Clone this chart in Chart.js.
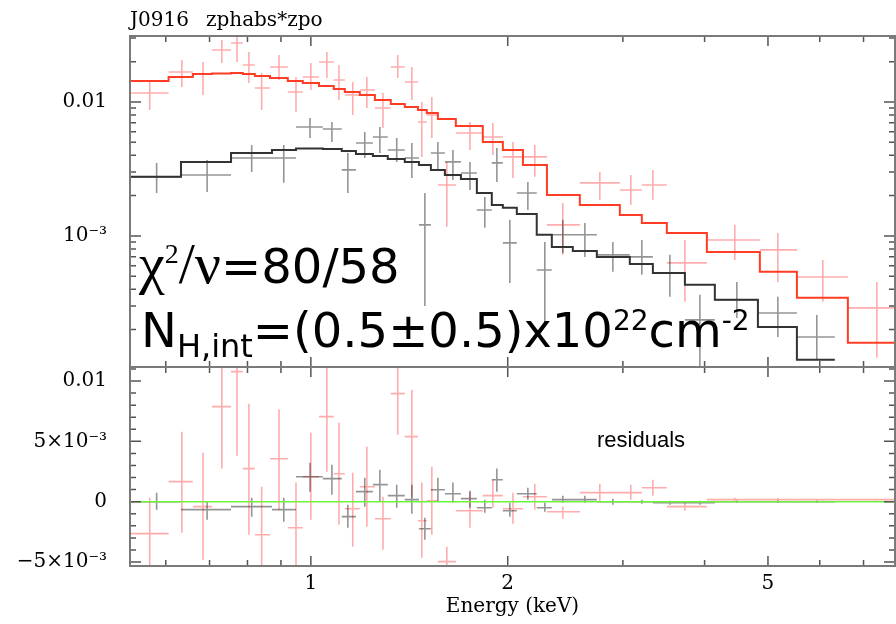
<!DOCTYPE html>
<html>
<head>
<meta charset="utf-8">
<script src="https://cdn.jsdelivr.net/npm/chart.js"></script>
<style>
  html, body { margin: 0; padding: 0; background: #fff; }
  #wrap { position: relative; width: 896px; height: 624px; overflow: hidden; }
  canvas { position: absolute; left: 0; top: 0; }
  .lbl { position: absolute; white-space: nowrap; color: #000; }
  #title { left: 130px; top: 9px; font: 20px/20px "DejaVu Serif", serif; }
  #title span { margin-left: 17px; }
  #resLabel { left: 597px; top: 429px; font: 22px/22px "Liberation Sans", Arial, sans-serif; }
  .note { font-family: "DejaVu Sans", sans-serif; font-size: 48px; line-height: 48px; }
  .note .serif { font-family: "Liberation Serif", serif; font-size: 58px; line-height: 0; }
  .note .sup { font-size: 28px; position: relative; top: -20px; }
  .note .sup2 { font-size: 28px; position: relative; top: -17px; }
  .note .sub { font-size: 32px; position: relative; top: 10px; }
</style>
</head>
<body>
<div id="wrap">
  <canvas id="specChart" width="896" height="624"></canvas>
  <canvas id="residChart" width="896" height="624"></canvas>
  <div class="lbl" id="title">J0916<span>zphabs*zpo</span></div>
  <div class="lbl" id="resLabel">residuals</div>
  <div class="lbl note" style="left:139px; top:242px;"><span class="serif">χ<span class="sup">2</span>/ν</span>=80/58</div>
  <div class="lbl note" style="left:141px; top:306px;">N<span class="sub">H,int</span>=(0.5±0.5)x10<span class="sup2">22</span>cm<span class="sup2">-2</span></div>
</div>
<script>
// axis limits and tick marks
const xMin = 0.529, xMax = 7.82;
const xMajor = [1, 2, 5];
const xMinor = [0.6, 0.7, 0.8, 0.9, 3, 4, 6, 7];
const specMin = 1.05e-4, specMax = 0.0311;
const specMajor = [0.001, 0.01];
const specLabels = ['10⁻³', '0.01'];
const specMinor = [2e-4, 3e-4, 4e-4, 5e-4, 6e-4, 7e-4, 8e-4, 9e-4,
                   2e-3, 3e-3, 4e-3, 5e-3, 6e-3, 7e-3, 8e-3, 9e-3, 0.02, 0.03];
const resMin = -0.00533, resMax = 0.01116;
const resMajor = [-0.005, 0, 0.005, 0.01];
const resLabels = ['−5×10⁻³', '0', '5×10⁻³', '0.01'];
const resMinor = [-0.004, -0.003, -0.002, -0.001, 0.001, 0.002, 0.003, 0.004,
                  0.006, 0.007, 0.008, 0.009, 0.011];

// red spectrum (keV bins)
const redEdges = [0.529, 0.606, 0.660, 0.706, 0.755, 0.787, 0.821, 0.866, 0.922, 0.972, 1.029,
  1.084, 1.127, 1.188, 1.253, 1.325, 1.392, 1.458, 1.504, 1.564, 1.666, 1.832, 1.966, 2.110,
  2.296, 2.578, 2.968, 3.207, 3.502, 4.032, 4.859, 5.536, 6.624, 8.09];
const redE = [0.567, 0.635, 0.684, 0.731, 0.771, 0.804, 0.841, 0.894, 0.949, 1.0, 1.058,
  1.104, 1.159, 1.218, 1.289, 1.358, 1.427, 1.478, 1.531, 1.614, 1.751, 1.898, 2.037, 2.200,
  2.428, 2.766, 3.085, 3.334, 3.732, 4.449, 5.177, 6.065, 7.336];
const redFlux = [0.01167, 0.01675, 0.01618, 0.02443, 0.02756, 0.01888, 0.01272, 0.01825, 0.01188,
  0.01536, 0.01989, 0.01459, 0.01128, 0.01229, 0.00902, 0.01825, 0.01410, 0.00709, 0.00800,
  0.00240, 0.00587, 0.00548, 0.00389, 0.00389, 0.00121, 0.00249, 0.00220, 0.00240, 0.000629,
  0.000933, 0.000786, 0.000494, 0.000290];
const redFluxHi = [0.01459, 0.02058, 0.01989, 0.02904, 0.0316, 0.0236, 0.01646, 0.02243, 0.01536,
  0.01953, 0.0236, 0.01888, 0.01410, 0.01536, 0.01167, 0.02243, 0.01825, 0.0100, 0.01090,
  0.00357, 0.00709, 0.00697, 0.00503, 0.00478, 0.00176, 0.00300, 0.00285, 0.00311, 0.000933,
  0.00121, 0.00105, 0.000662, 0.000453];
const redFluxLo = [0.00872, 0.01294, 0.01128, 0.01953, 0.01989, 0.01386, 0.00872, 0.01459, 0.00842,
  0.01229, 0.01510, 0.01035, 0.00800, 0.00902, 0.00640, 0.01510, 0.01035, 0.00389, 0.00539,
  0.00117, 0.00438, 0.00402, 0.00271, 0.00276, 0.000722, 0.00186, 0.00170, 0.00186, 0.000322,
  0.000662, 0.000453, 0.000322, 0.000123];
const redModel = [0.01434, 0.01536, 0.01618, 0.01632, 0.01646, 0.01618, 0.01563, 0.01510, 0.01434,
  0.01386, 0.01316, 0.01250, 0.01188, 0.01128, 0.01035, 0.00966, 0.00918, 0.00872, 0.00828,
  0.00746, 0.00662, 0.00503, 0.00438, 0.00339, 0.00202, 0.00170, 0.00143, 0.00125, 0.00105,
  0.00076, 0.00054, 0.000345, 0.000159];
const redRes = [-0.00265, 0.00166, -0.00041, 0.00788, 0.01078, 0.00274, -0.00274, 0.00356, -0.00216,
  0.00207, 0.00705, 0.00232, -0.00058, 0.00124, -0.00141, 0.00895, 0.00539, -0.00158, 0.00008,
  -0.00497, -0.00075, 0.00050, -0.00058, 0.00041, -0.00083, 0.00075, 0.00075, 0.00116, -0.00041,
  0.00017, 0.00017, 0.00017, 0.00017];
const redResHi = [0.00033, 0.0058, 0.00406, 0.0112, 0.013, 0.00812, 0.00124, 0.00763, 0.00158,
  0.00572, 0.0115, 0.00655, 0.0024, 0.00456, 0.00041, 0.0111, 0.00928, 0.00158, 0.0029,
  -0.00373, 0.00083, 0.00182, 0.00075, 0.00149, -0.00041, 0.00149, 0.00141, 0.00182, -0.00008,
  0.00033, 0.0003, 0.00025, 0.00025];
const redResLo = [-0.0055, -0.00257, -0.00481, 0.00274, 0.00381, -0.00274, -0.0055, -0.00066, -0.0055,
  -0.00149, 0.00249, -0.00191, -0.00373, -0.00207, -0.00398, 0.00555, 0.00033, -0.00464, -0.00274,
  -0.0055, -0.00216, -0.0005, -0.00182, -0.00066, -0.00141, 0, 0.00017, 0.0005, -0.00075,
  0, 0.00004, 0.00008, 0.00008];

// black spectrum
const blackEdges = [0.529, 0.633, 0.755, 0.872, 0.949, 1.043, 1.115, 1.172, 1.244, 1.311, 1.392,
  1.463, 1.526, 1.603, 1.696, 1.794, 1.891, 1.966, 2.065, 2.215, 2.336, 2.515, 2.737, 3.074,
  3.334, 3.732, 4.147, 4.826, 5.536, 6.327];
const blackE = [0.581, 0.694, 0.812, 0.909, 0.997, 1.077, 1.139, 1.209, 1.275, 1.353, 1.427,
  1.494, 1.564, 1.649, 1.751, 1.845, 1.925, 2.015, 2.147, 2.279, 2.428, 2.624, 2.896, 3.207,
  3.540, 3.934, 4.481, 5.177, 5.938];
const blackFlux = [0.00276, 0.00285, 0.00382, 0.00382, 0.00651, 0.00629, 0.00311, 0.00494, 0.00548,
  0.00438, 0.00382, 0.00121, 0.00416, 0.00357, 0.00295, 0.00156, 0.00351, 0.000887, 0.00209,
  0.000557, 0.00102, 0.00102, 0.000722, 0.000697, 0.000529, 0.000236, 0.000333, 0.000266, 0.000176];
const blackFluxHi = [0.00351, 0.00369, 0.00478, 0.00478, 0.00760, 0.00709, 0.00416, 0.00597, 0.00651,
  0.00539, 0.00494, 0.00209, 0.00503, 0.00438, 0.00357, 0.00195, 0.00454, 0.00132, 0.00253,
  0.000902, 0.00132, 0.00125, 0.000902, 0.000933, 0.000722, 0.000363, 0.000453, 0.000351, 0.000257];
const blackFluxLo = [0.00209, 0.00213, 0.00300, 0.00249, 0.00539, 0.00503, 0.00209, 0.00382, 0.00416,
  0.00357, 0.00271, 0.000300, 0.00311, 0.00262, 0.00220, 0.00115, 0.00253, 0.000446, 0.00156,
  0.000209, 0.000747, 0.000697, 0.000539, 0.000512, 0.000351, 0.0001, 0.000244, 0.000176, 0.000119];
const blackModel = [0.00276, 0.00357, 0.00416, 0.00438, 0.00450, 0.00446, 0.00431, 0.00409, 0.00395,
  0.00375, 0.00357, 0.00339, 0.00311, 0.00285, 0.00266, 0.00209, 0.00170, 0.00162, 0.00146,
  0.00102, 0.000828, 0.000773, 0.000697, 0.000618, 0.000529, 0.000431, 0.000333, 0.000209, 0.000119];
const blackRes = [0, -0.00066, -0.00041, -0.00066, 0.00207, 0.00191, -0.00124, 0.00083, 0.00141,
  0.0005, 0.00017, -0.00224, 0.00099, 0.00066, 0.00025, -0.0005, 0.00182, -0.00075, 0.00066,
  -0.0005, 0.00017, 0.00017, 0, 0, -0.00008, -0.00008, 0, 0, 0];
const blackResHi = [0.00075, 0, 0.00033, 0.00033, 0.00323, 0.00307, -0.00025, 0.00199, 0.00265,
  0.00141, 0.00141, -0.00133, 0.00199, 0.00158, 0.00091, 0.00017, 0.00274, -0.00008, 0.00116,
  -0.00008, 0.0005, 0.0005, 0.00025, 0.00017, 0.00008, 0.00008, 0.0001, 0.0001, 0.0001];
const blackResLo = [-0.00066, -0.00149, -0.00124, -0.00166, 0.00083, 0.00058, -0.00216, -0.00041, 0,
  -0.0005, -0.00099, -0.00315, 0, -0.00008, -0.0005, -0.00091, 0.00083, -0.00124, 0.00017,
  -0.00083, -0.00008, -0.00008, -0.00025, -0.00017, -0.00025, -0.00025, -0.0001, -0.0001, -0.0001];

const RED_PT = 'rgba(255, 70, 70, 0.45)';
const BLACK_PT = 'rgba(0, 0, 0, 0.42)';
const tickFont = { family: 'DejaVu Serif', size: 20 };

// model histogram: one point per bin edge, stepped
function stepData(edges, vals) {
  const pts = vals.map((v, i) => ({ x: edges[i], y: v }));
  pts.push({ x: edges[edges.length - 1], y: vals[vals.length - 1] });
  return pts;
}

function crossSet(edges, xs, ys, lo, hi, color) {
  return {
    data: xs.map((x, i) => ({ x: x, y: ys[i] })),
    pointRadius: 0,
    err: { xlo: edges.slice(0, -1), xhi: edges.slice(1), ylo: lo, yhi: hi, color: color }
  };
}

// draws the data crosses (energy bin + error bar)
const crossPlugin = {
  id: 'crosses',
  beforeDatasetsDraw(chart) {
    const { ctx, chartArea: a, scales } = chart;
    const x = scales.x, y = scales.y;
    ctx.save();
    ctx.beginPath();
    ctx.rect(a.left, a.top, a.right - a.left, a.bottom - a.top);
    ctx.clip();
    ctx.lineWidth = 1.6;
    chart.data.datasets.forEach(ds => {
      if (!ds.err) return;
      const e = ds.err;
      ctx.strokeStyle = e.color;
      ds.data.forEach((p, i) => {
        const px = x.getPixelForValue(p.x), py = y.getPixelForValue(p.y);
        ctx.beginPath();
        ctx.moveTo(x.getPixelForValue(e.xlo[i]), py);
        ctx.lineTo(x.getPixelForValue(e.xhi[i]), py);
        ctx.moveTo(px, y.getPixelForValue(e.ylo[i]));
        ctx.lineTo(px, y.getPixelForValue(e.yhi[i]));
        ctx.stroke();
      });
    });
    ctx.restore();
  }
};

// box around the panel with inward ticks on every side
const framePlugin = {
  id: 'frame',
  afterDraw(chart, args, opts) {
    const { ctx, chartArea: a, scales } = chart;
    const x = scales.x, y = scales.y;
    ctx.save();
    ctx.strokeStyle = '#555';
    ctx.lineWidth = 1.5;
    const xt = (vals, len) => vals.forEach(v => {
      const p = x.getPixelForValue(v);
      ctx.beginPath();
      ctx.moveTo(p, a.bottom); ctx.lineTo(p, a.bottom - len);
      ctx.moveTo(p, a.top); ctx.lineTo(p, a.top + len);
      ctx.stroke();
    });
    const yt = (vals, len) => vals.forEach(v => {
      const p = y.getPixelForValue(v);
      ctx.beginPath();
      ctx.moveTo(a.left, p); ctx.lineTo(a.left + len, p);
      ctx.moveTo(a.right, p); ctx.lineTo(a.right - len, p);
      ctx.stroke();
    });
    xt(xMajor, 10); xt(xMinor, 6);
    yt(opts.yMajor, 11); yt(opts.yMinor, 6);
    ctx.strokeStyle = '#7a7a7a';
    ctx.lineWidth = 2;
    ctx.strokeRect(a.left, a.top, a.right - a.left, a.bottom - a.top);
    ctx.restore();
  }
};

const baseX = {
  type: 'logarithmic', min: xMin, max: xMax,
  grid: { display: false, drawTicks: false },
  border: { display: false }
};

new Chart(document.getElementById('specChart'), {
  type: 'scatter',
  data: {
    datasets: [
      { data: stepData(redEdges, redModel), showLine: true, stepped: true, pointRadius: 0,
        borderColor: '#ff3d24', borderWidth: 2 },
      { data: stepData(blackEdges, blackModel), showLine: true, stepped: true, pointRadius: 0,
        borderColor: '#333', borderWidth: 2 },
      crossSet(redEdges, redE, redFlux, redFluxLo, redFluxHi, RED_PT),
      crossSet(blackEdges, blackE, blackFlux, blackFluxLo, blackFluxHi, BLACK_PT)
    ]
  },
  options: {
    responsive: false,
    animation: false,
    events: [],
    layout: { padding: { left: 0, right: 1, top: 36, bottom: 257 } },
    plugins: {
      legend: { display: false }, tooltip: { enabled: false },
      frame: { yMajor: specMajor, yMinor: specMinor }
    },
    scales: {
      x: Object.assign({}, baseX, { display: false }),
      y: {
        type: 'logarithmic', min: specMin, max: specMax,
        afterFit: s => { s.width = 130; },
        afterBuildTicks: s => { s.ticks = specMajor.map(v => ({ value: v })); },
        grid: { display: false, drawTicks: false },
        border: { display: false },
        ticks: {
          autoSkip: false, padding: 23, color: '#000', font: tickFont,
          callback: (v, i) => specLabels[i]
        }
      }
    }
  },
  plugins: [crossPlugin, framePlugin]
});

new Chart(document.getElementById('residChart'), {
  type: 'scatter',
  data: {
    datasets: [
      { data: [{ x: xMin, y: 0 }, { x: xMax, y: 0 }], showLine: true, pointRadius: 0,
        borderColor: '#6cf53a', borderWidth: 1.6 },
      crossSet(redEdges, redE, redRes, redResLo, redResHi, RED_PT),
      crossSet(blackEdges, blackE, blackRes, blackResLo, blackResHi, BLACK_PT)
    ]
  },
  options: {
    responsive: false,
    animation: false,
    events: [],
    layout: { padding: { left: 0, right: 1, top: 367, bottom: 0 } },
    plugins: {
      legend: { display: false }, tooltip: { enabled: false },
      frame: { yMajor: resMajor, yMinor: resMinor }
    },
    scales: {
      x: Object.assign({}, baseX, {
        afterFit: s => { s.height = 58; },
        afterBuildTicks: s => { s.ticks = xMajor.map(v => ({ value: v })); },
        ticks: {
          autoSkip: false, maxRotation: 0, padding: 6, color: '#000', font: tickFont,
          callback: (v, i) => String(xMajor[i])
        },
        title: {
          display: true, text: 'Energy (keV)', color: '#000', font: tickFont,
          padding: { top: 0, bottom: 5 }
        }
      }),
      y: {
        type: 'linear', min: resMin, max: resMax,
        afterFit: s => { s.width = 130; },
        afterBuildTicks: s => { s.ticks = resMajor.map(v => ({ value: v })); },
        grid: { display: false, drawTicks: false },
        border: { display: false },
        ticks: {
          autoSkip: false, padding: 23, color: '#000', font: tickFont,
          callback: (v, i) => resLabels[i]
        }
      }
    }
  },
  plugins: [crossPlugin, framePlugin]
});
</script>
</body>
</html>
